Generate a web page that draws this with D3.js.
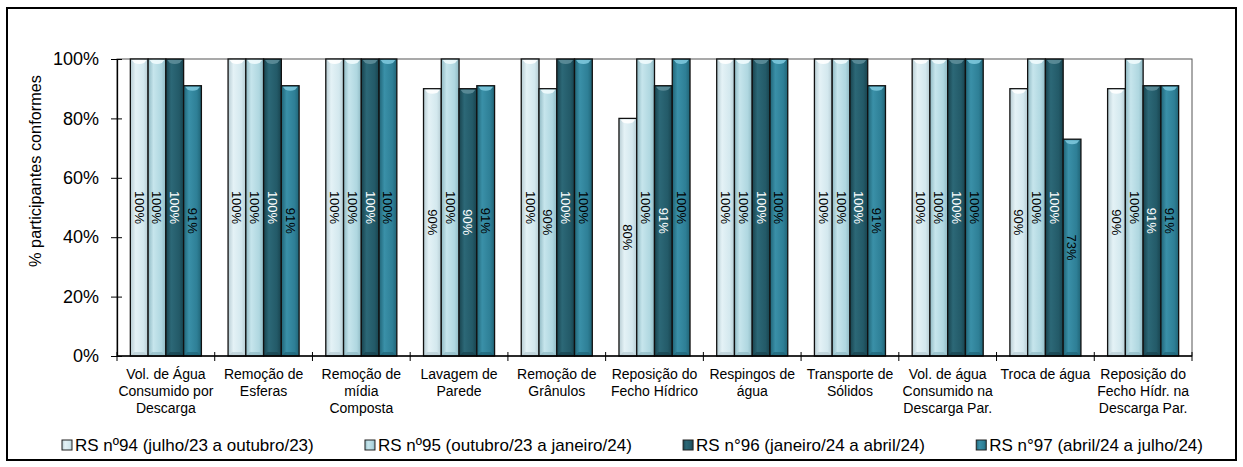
<!DOCTYPE html>
<html><head><meta charset="utf-8">
<script src="https://cdn.jsdelivr.net/npm/d3@7"></script>
<style>
html,body{margin:0;padding:0;background:#fff;}
svg{display:block;font-family:"Liberation Sans",Arial,sans-serif;}
</style></head>
<body>
<svg id="chart" width="1243" height="467"></svg>
<script>
const categories = [
  ["Vol. de Água","Consumido por","Descarga"],
  ["Remoção de","Esferas"],
  ["Remoção de","mídia","Composta"],
  ["Lavagem de","Parede"],
  ["Remoção de","Grânulos"],
  ["Reposição do","Fecho Hídrico"],
  ["Respingos de","água"],
  ["Transporte de","Sólidos"],
  ["Vol. de água","Consumido na","Descarga Par."],
  ["Troca de água"],
  ["Reposição do","Fecho Hídr. na","Descarga Par."]
];
const seriesNames = [
  "RS nº94 (julho/23 a outubro/23)",
  "RS nº95 (outubro/23 a janeiro/24)",
  "RS n°96 (janeiro/24 a abril/24)",
  "RS n°97 (abril/24 a julho/24)"
];
const rs94 = [100,100,100,90,100,80,100,100,100,90,90];
const rs95 = [100,100,100,100,90,100,100,100,100,100,100];
const rs96 = [100,100,100,90,100,91,100,100,100,100,91];
const rs97 = [91,91,100,91,100,100,100,91,100,73,91];
const yTicks = [0,20,40,60,80,100];
const yTitle = "% participantes conformes";

(function(){
const seriesValues = [rs94, rs95, rs96, rs97];
const colors = [
  {edge:"#b6ccd3", hi:"#e4f2f6", base:"#d3e8ee", cap:"#ffffff", text:"#000"},
  {edge:"#8fb9c3", hi:"#c6e5ec", base:"#afd7e0", cap:"#effbfd", text:"#000"},
  {edge:"#18434e", hi:"#2c6877", base:"#235a68", cap:"#5d8d99", text:"#fff"},
  {edge:"#206476", hi:"#3a90a8", base:"#2e7f96", cap:"#7cc6dc", text:"#000"}
];

const svg = d3.select("#chart");
const defs = svg.append("defs");
colors.forEach((c,i)=>{
  const g = defs.append("linearGradient").attr("id","g"+i)
    .attr("x1","0").attr("x2","1").attr("y1","0").attr("y2","0");
  g.append("stop").attr("offset","0%").attr("stop-color",c.edge);
  g.append("stop").attr("offset","30%").attr("stop-color",c.hi);
  g.append("stop").attr("offset","75%").attr("stop-color",c.base);
  g.append("stop").attr("offset","100%").attr("stop-color",c.edge);
});

// outer border
svg.append("rect").attr("x",7).attr("y",8).attr("width",1229).attr("height",452)
  .attr("fill","none").attr("stroke","#000").attr("stroke-width",2);

const pLeft = 117, pRight = 1192, pTop = 59, pBottom = 356;
const x0 = d3.scaleBand().domain(d3.range(categories.length)).range([pLeft,pRight])
  .paddingInner(0.273).paddingOuter(0.1365);
const x1 = d3.scaleBand().domain(d3.range(seriesNames.length)).range([0,x0.bandwidth()]);
const y = d3.scaleLinear().domain([0,100]).range([pBottom,pTop]);

// plot area border
svg.append("rect").attr("x",pLeft).attr("y",pTop).attr("width",pRight-pLeft).attr("height",pBottom-pTop)
  .attr("fill","none").attr("stroke","#555").attr("stroke-width",1);

// bars
const step = x0.step();
categories.forEach((cat,ci)=>{
  seriesValues.forEach((vals,si)=>{
    const v = vals[ci];
    const bx = x0(ci)+x1(si), bw = x1.bandwidth();
    const by = y(v), bh = y(0)-y(v);
    const g = svg.append("g");
    g.append("rect").attr("x",bx).attr("y",by).attr("width",bw).attr("height",bh)
      .attr("fill","url(#g"+si+")").attr("stroke","#111").attr("stroke-width",1.3);
    g.append("path")
      .attr("d",`M${bx+1.5},${by+1} L${bx+bw-1.5},${by+1} L${bx+bw-4},${by+4} Q${bx+bw/2},${by+6} ${bx+4},${by+4} Z`)
      .attr("fill",colors[si].cap).attr("opacity",0.9);
    g.append("path")
      .attr("d",`M${bx+1.5},${y(0)-1} L${bx+bw-1.5},${y(0)-1} L${bx+bw-4},${y(0)-4} L${bx+4},${y(0)-4} Z`)
      .attr("fill",colors[si].edge).attr("opacity",0.7);
    const cx = bx+bw/2, cy = by+bh/2;
    g.append("text").attr("transform",`translate(${cx},${cy}) rotate(90)`)
      .attr("text-anchor","middle").attr("dy","0.35em")
      .attr("font-size",13).attr("fill",colors[si].text)
      .text(v+"%");
  });
});

// y axis
const yAxis = d3.axisLeft(y).tickValues(yTicks).tickFormat(d=>d+"%").tickSize(0).tickPadding(18);
const ya = svg.append("g").attr("transform",`translate(${pLeft},0)`).call(yAxis);
ya.select(".domain").attr("stroke","#000").attr("stroke-width",1.3);
ya.selectAll(".tick text").attr("font-size",18).attr("fill","#000")
  .attr("font-family","'Liberation Sans',Arial,sans-serif");
ya.selectAll(".tick").append("line").attr("x1",-6).attr("x2",5).attr("stroke","#000");

// x axis
const xa = svg.append("g");
xa.append("line").attr("x1",pLeft).attr("x2",pRight).attr("y1",pBottom).attr("y2",pBottom)
  .attr("stroke","#000").attr("stroke-width",1.3);
d3.range(categories.length+1).forEach(i=>{
  const tx = pLeft + i*step;
  xa.append("line").attr("x1",tx).attr("x2",tx).attr("y1",pBottom-4).attr("y2",pBottom+5)
    .attr("stroke","#000");
});
categories.forEach((lines,ci)=>{
  const cx = x0(ci)+x0.bandwidth()/2;
  const t = xa.append("text").attr("text-anchor","middle").attr("font-size",14).attr("fill","#000");
  lines.forEach((ln,li)=>{
    t.append("tspan").attr("x",cx).attr("y",379+li*17).text(ln);
  });
});

// y title
svg.append("text").attr("transform","translate(41,171) rotate(-90)")
  .attr("text-anchor","middle").attr("font-size",16.3).attr("fill","#000").text(yTitle);

// legend
const lg = svg.append("g");
const items = seriesNames.map((n,i)=>{
  const g = lg.append("g");
  g.append("rect").attr("x",0).attr("y",-11).attr("width",10).attr("height",10)
    .attr("fill","url(#g"+i+")").attr("stroke","#222").attr("stroke-width",1);
  const t = g.append("text").attr("x",13).attr("y",0).attr("font-size",17).attr("fill","#000").text(n);
  return {g, w: 13 + t.node().getComputedTextLength()};
});
const lStart = 62, lEnd = 1203;
const totalW = d3.sum(items, d=>d.w);
const gap = (lEnd-lStart-totalW)/(items.length-1);
let lx = lStart;
items.forEach(it=>{ it.g.attr("transform",`translate(${lx},451)`); lx += it.w+gap; });
})();
</script>
</body></html>
